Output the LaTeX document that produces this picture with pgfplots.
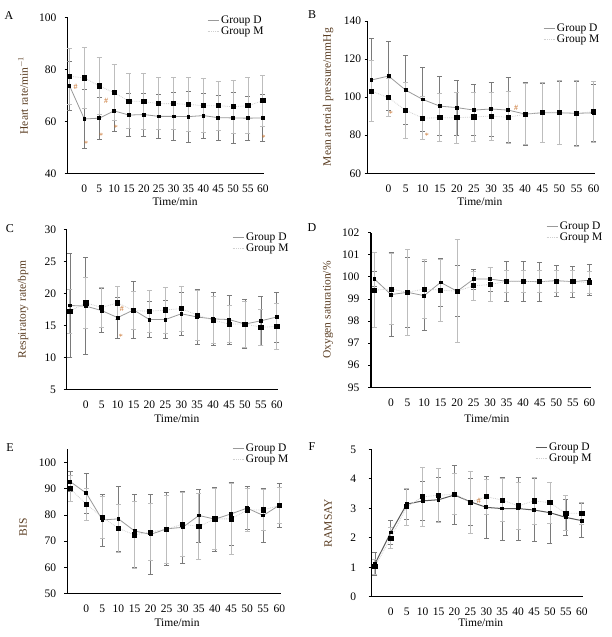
\documentclass[border=0pt]{standalone}
\usepackage{fontspec}
\setmainfont{Liberation Serif}
\usepackage{pgfplots}
\usepackage{pgfplotstable}
\pgfplotsset{compat=1.18}

\definecolor{dline}{HTML}{9A9A9A}
\definecolor{mline}{HTML}{D0D0D0}
\definecolor{derr}{HTML}{7A7A7A}
\definecolor{merr}{HTML}{BDBDBD}
\definecolor{labc}{HTML}{5A3D22}
\definecolor{sig}{HTML}{C8702A}

\newcommand{\fs}{\fontsize{11.5}{13}\selectfont}

\tikzset{sg/.style={font=\footnotesize, text=sig, inner sep=0pt}}

\pgfplotsset{
  panel/.style={
    scale only axis, anchor=south west, clip=false,
    axis lines=left, axis line style={-, line width=1.1pt, black},
    tick align=outside, major tick length=3pt,
    ytick style={line width=0.8pt, black},
    x tick style={draw=none},
    xtick={0,5,...,60}, xmax=60.5,
    xticklabel shift=6pt,
    tick label style={font=\fs, inner sep=2pt},
    /pgf/number format/assume math mode=true,
    label style={font=\fs, inner sep=1pt},
    ylabel style={color=labc, anchor=center},
    xlabel style={anchor=center},
    xlabel={Time/min},
    legend style={draw=none, fill=none, font=\fs, inner sep=0pt, anchor=north west,
      cells={anchor=west}, row sep=-2pt},
    legend cell align=left,
    legend image code/.code={\draw[##1] (0pt,0pt) -- (11pt,0pt);},
  },
  dser/.style={forget plot, dline, line width=0.8pt, mark=square*, mark size=1.4pt,
    mark options={solid, black},
    error bars/y dir=both, error bars/y explicit,
    error bars/error bar style={derr, line width=0.7pt, solid},
    error bars/error mark options={rotate=90, mark size=2.5pt, derr, line width=0.7pt, solid}},
  mser/.style={forget plot, mline, densely dotted, line width=0.8pt, mark=square*, mark size=2.1pt,
    mark options={solid, black},
    error bars/y dir=both, error bars/y explicit,
    error bars/error bar style={merr, line width=0.8pt, solid},
    error bars/error mark options={rotate=90, mark size=2.5pt, merr, line width=0.8pt, solid}},
}

\pgfplotstableread{
t d dsd m msd
-5 73.7 9.3 77.3 10.8
0 60.9 11.2 76.7 11.6
5 61.2 8.0 73.6 10.9
10 64.0 8.0 71.0 10.7
15 62.4 8.3 67.8 10.7
20 62.6 8.2 67.6 10.9
25 61.9 8.4 66.8 9.9
30 61.9 9.1 66.8 10.0
35 61.8 9.9 66.5 10.3
40 62.2 8.7 66.0 10.4
45 61.4 8.6 66.0 9.4
50 61.3 9.8 65.6 10.2
55 61.2 8.4 66.0 10.7
60 61.3 9.0 67.9 9.7
}\hr

\pgfplotstableread{
t d dsd m msd
-5 109.0 21.9 103.2 16.1
0 111.1 18.0 99.7 10.0
5 103.7 18.1 93.1 14.7
10 98.8 16.7 89.0 11.2
15 95.3 15.5 89.2 12.6
20 94.5 14.5 89.2 13.5
25 93.2 13.4 89.6 13.0
30 93.8 14.2 90.1 12.6
35 93.2 17.2 89.4 13.7
40 91.1 16.5 91.1 15.9
45 91.8 15.5 92.0 15.9
50 91.8 16.7 92.0 16.6
55 91.5 17.0 91.5 17.5
60 91.8 15.1 92.4 16.1
}\map

\pgfplotstableread{
t d dsd m msd
-5 18.1 8.1 17.2 3.4
0 18.0 7.6 18.5 4.0
5 17.3 3.4 17.8 3.2
10 16.2 3.2 18.5 2.6
15 17.4 4.4 17.3 3.0
20 15.9 2.8 17.2 3.3
25 15.9 3.0 17.4 3.6
30 16.8 3.4 17.6 3.5
35 16.3 4.3 16.6 3.9
40 16.0 4.2 15.8 3.7
45 15.9 3.8 15.2 2.9
50 15.2 3.8 15.2 3.6
55 15.7 3.8 14.7 2.8
60 16.3 3.9 14.8 3.55
}\rr

\pgfplotstableread{
t d dsd m msd
-5 99.9 0.33 99.4 1.7
0 99.2 1.9 99.45 1.6
5 99.3 1.6 99.3 1.95
10 99.15 1.55 99.45 1.35
15 99.75 1.1 99.4 1.4
20 99.35 1.15 99.35 2.33
25 99.9 0.45 99.6 0.65
30 99.9 0.55 99.65 0.77
35 99.8 0.9 99.8 0.5
40 99.8 0.9 99.8 0.5
45 99.78 0.9 99.78 0.5
50 99.83 0.7 99.8 0.5
55 99.78 0.7 99.78 0.5
60 99.85 0.7 99.75 0.5
}\spo

\pgfplotstableread{
t d dsd m msd
-5 92.7 3.9 90.0 4.9
0 88.3 7.6 84.1 6.2
5 78.1 9.9 79.1 7.9
10 78.5 12.3 74.9 9.3
15 73.9 14.0 72.4 12.7
20 72.6 15.1 73.5 11.0
25 74.7 14.0 74.6 13.0
30 75.3 13.7 76.5 12.2
35 79.8 10.1 75.6 12.5
40 78.4 12.3 78.5 11.5
45 80.4 12.0 78.5 13.7
50 82.6 8.2 81.9 8.1
55 79.8 10.4 81.9 7.9
60 83.7 8.4 83.6 7.0
}\bis

\pgfplotstableread{
t d dsd m msd
-5 1.11 0.39 1.02 0.25
0 2.18 0.42 1.99 0.35
5 3.14 0.5 3.05 0.63
10 3.25 0.65 3.39 1.0
15 3.29 0.75 3.44 0.92
20 3.45 1.0 3.48 0.7
25 3.22 0.8 3.21 1.05
30 3.03 1.05 3.39 0.6
35 2.99 1.07 3.28 0.74
40 2.99 1.07 3.08 0.8
45 2.94 1.07 3.25 0.79
50 2.85 1.04 3.19 0.7
55 2.69 0.6 2.83 0.59
60 2.58 0.58 2.83 0.37
}\ram

\begin{document}
\begin{tikzpicture}
\useasboundingbox (0,0) rectangle (611pt,-637pt);

% A heart rate
\begin{axis}[panel, at={(67.7pt,-173.3pt)}, width=196.6pt, height=156pt,
  xmin=-5.6, ymin=40, ymax=100, ytick={40,60,80,100}, yticklabel shift=6pt,
  ylabel={Heart rate/min$^{-1}$},
  ylabel style={at={(axis description cs:-0.227,0.5)}},
  xlabel style={at={(axis description cs:0.546,0)}, yshift=-28.7pt},
  legend style={at={(axis description cs:0.709,1.025)}}]
\addlegendimage{dline, line width=0.8pt}
\addlegendimage{mline, densely dotted, line width=0.8pt}
\legend{Group D, Group M}
\addplot[dser] table[x=t, y=d, y error=dsd] {\hr};
\addplot[mser] table[x=t, y=m, y error=msd] {\hr};
\node[sg] at (axis cs:-2.9,73.1) {\#};
\node[sg] at (axis cs:7.3,68) {\#};
\node[sg] at (axis cs:0.6,51.5) {*};
\node[sg] at (axis cs:5.6,54.4) {*};
\node[sg] at (axis cs:10.6,57.3) {*};
\node[sg] at (axis cs:60.3,53.5) {*};
\end{axis}

% B mean arterial pressure
\begin{axis}[panel, at={(367.7pt,-173.3pt)}, width=227.6pt, height=152.3pt,
  xmin=-6.1, ymin=60, ymax=140, ytick={60,80,...,140}, yticklabel shift=1.5pt,
  ylabel={Mean arterial pressure/mmHg},
  ylabel style={at={(axis description cs:-0.174,0.5)}},
  xlabel style={at={(axis description cs:0.493,0)}, yshift=-28.4pt},
  legend style={at={(axis description cs:0.770,0.997)}}]
\addlegendimage{dline, line width=0.8pt}
\addlegendimage{mline, densely dotted, line width=0.8pt}
\legend{Group D, Group M}
\addplot[dser] table[x=t, y=d, y error=dsd] {\map};
\addplot[mser] table[x=t, y=m, y error=msd] {\map};
\node[sg] at (axis cs:0.7,91.1) {*};
\node[sg] at (axis cs:11.2,79.6) {*};
\node[sg] at (axis cs:37.3,94.6) {\#};
\end{axis}

% C respiratory rate
\begin{axis}[panel, at={(66.7pt,-389.3pt)}, width=211.7pt, height=160pt,
  xmin=-6, ymin=5, ymax=30, ytick={5,10,...,30}, yticklabel shift=5.5pt,
  ylabel={Respiratory rate/bpm},
  ylabel style={at={(axis description cs:-0.206,0.5)}},
  xlabel style={at={(axis description cs:0.52,0)}, yshift=-29pt},
  legend style={at={(axis description cs:0.781,0.993)}}]
\addlegendimage{dline, line width=0.8pt}
\addlegendimage{mline, densely dotted, line width=0.8pt}
\legend{Group D, Group M}
\addplot[dser] table[x=t, y=d, y error=dsd] {\rr};
\addplot[mser] table[x=t, y=m, y error=msd] {\rr};
\node[sg] at (axis cs:11.3,17.5) {\#};
\node[sg] at (axis cs:11.0,13.2) {*};
\end{axis}

% D oxygen saturation
\begin{axis}[panel, at={(371pt,-387.3pt)}, width=220pt, height=154.6pt,
  xmin=-6.05, ymin=95, ymax=102, ytick={95,...,102}, yticklabel shift=6.5pt,
  ylabel={Oxygen saturation/\%},
  ylabel style={at={(axis description cs:-0.195,0.5)}},
  xlabel style={at={(axis description cs:0.527,0)}, yshift=-31pt},
  legend style={at={(axis description cs:0.795,1.086)}}]
\addlegendimage{dline, line width=0.8pt}
\addlegendimage{mline, densely dotted, line width=0.8pt}
\legend{Group D, Group M}
\addplot[dser] table[x=t, y=d, y error=dsd] {\spo};
\addplot[mser] table[x=t, y=m, y error=msd] {\spo};
\end{axis}

% E BIS
\begin{axis}[panel, at={(67.3pt,-593.7pt)}, width=213.6pt, height=144.4pt,
  xmin=-5.9, ymin=50, ymax=105, ytick={50,60,...,100}, yticklabel shift=6pt,
  ylabel={BIS},
  ylabel style={at={(axis description cs:-0.207,0.46)}},
  xlabel style={at={(axis description cs:0.514,0)}, yshift=-29pt},
  legend style={at={(axis description cs:0.771,1.054)}}]
\addlegendimage{dline, line width=0.8pt}
\addlegendimage{mline, densely dotted, line width=0.8pt}
\legend{Group D, Group M}
\addplot[dser] table[x=t, y=d, y error=dsd] {\bis};
\addplot[mser] table[x=t, y=m, y error=msd] {\bis};
\end{axis}

% F Ramsay
\begin{axis}[panel, at={(371.7pt,-596.7pt)}, width=211.7pt, height=147.4pt,
  xmin=-6, ymin=0, ymax=5, ytick={0,...,5}, yticklabel shift=10.5pt,
  ylabel={RAMSAY},
  ylabel style={at={(axis description cs:-0.206,0.5)}},
  xlabel style={at={(axis description cs:0.515,0)}, yshift=-26.5pt},
  legend style={at={(axis description cs:0.771,1.06)}}]
\addlegendimage{black!65, line width=1pt}
\addlegendimage{mline, densely dotted, line width=0.8pt}
\legend{Group D, Group M}
\addplot[dser, black!65, line width=1pt] table[x=t, y=d, y error=dsd] {\ram};
\addplot[mser] table[x=t, y=m, y error=msd] {\ram};
\node[sg] at (axis cs:27.7,3.25) {\#};
\end{axis}

\node[font=\fontsize{12}{14}\selectfont] at (9pt,-16pt) {A};
\node[font=\fontsize{12}{14}\selectfont] at (312pt,-15pt) {B};
\node[font=\fontsize{12}{14}\selectfont] at (10pt,-229pt) {C};
\node[font=\fontsize{12}{14}\selectfont] at (312pt,-228pt) {D};
\node[font=\fontsize{12}{14}\selectfont] at (10pt,-448pt) {E};
\node[font=\fontsize{12}{14}\selectfont] at (312pt,-447pt) {F};
\end{tikzpicture}
\end{document}
